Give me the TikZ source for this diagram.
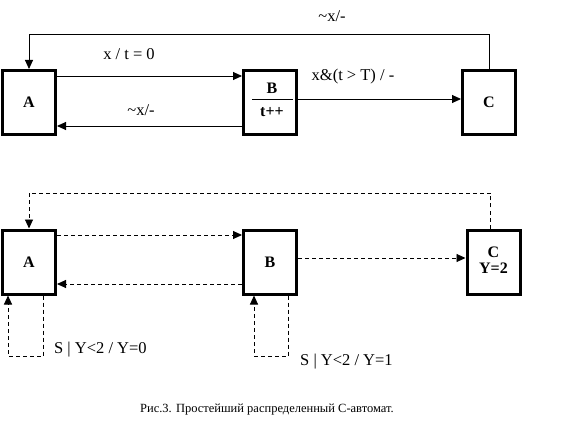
\documentclass[tikz,border=0pt]{standalone}
\usepackage{fontspec}
\setmainfont{Liberation Serif}
\usetikzlibrary{arrows.meta}
\tikzset{
  box/.style={draw, line width=3pt, minimum width=53pt, minimum height=64pt, inner sep=0pt, font=\fontsize{16}{18}\selectfont\bfseries},
  conn/.style={line width=0.9pt, -{Triangle[length=9pt,width=8pt]}},
  dconn/.style={conn, dash pattern=on 4pt off 3pt},
  lbl/.style={font=\fontsize{16.5}{18}\selectfont, inner sep=0pt},
}
\begin{document}
\begin{tikzpicture}[x=1pt,y=-1pt]
\useasboundingbox (0,0) rectangle (576,433);
% top
\node[box] (A) at (29,102.5) {A};
\node[box] (B) at (270,102.5) {};
\node[box] (C) at (489,102.5) {C};
\node[font=\fontsize{16}{18}\selectfont\bfseries, inner sep=0pt] (Bt) at (272,88) {B};
\node[font=\fontsize{16}{18}\selectfont\bfseries, inner sep=0pt] (Bb) at (272,112) {t++};
\draw[line width=0.9pt] ([xshift=10pt,yshift=3.5pt]B.west) -- ([xshift=-5pt,yshift=3.5pt]B.east);
\coordinate (tl) at (29,34);
\draw[conn] (C.north) |- (tl) -- (A.north);
\draw[conn] ([yshift=26.5pt]A.east) -- ([yshift=26.5pt]B.west);
\draw[conn] ([yshift=-23.5pt]B.west) -- ([yshift=-23.5pt]A.east);
\draw[conn] ([yshift=3.5pt]B.east) -- ([yshift=3.5pt]C.west);
\node[lbl] (l1) at (332,16) {\textasciitilde x/-};
\node[lbl] (l2) at (129,54) {x / t = 0};
\node[lbl] (l3) at (141,110) {\textasciitilde x/-};
\node[lbl] (l4) at (353,77) {x\&(t > T) / -};
% bottom
\node[box] (A2) at (29,262) {A};
\node[box] (B2) at (270,262) {B};
\node[box] (C2) at (493.5,262) {\begin{tabular}{@{}c@{}}C\\[-2pt]Y=2\end{tabular}};
\coordinate (tl2) at (29,193);
\draw[dconn] ([xshift=-3.5pt]C2.north) |- (tl2) -- (A2.north);
\draw[dconn] ([yshift=27pt]A2.east) -- ([yshift=27pt]B2.west);
\draw[dconn] ([yshift=-22pt]B2.west) -- ([yshift=-22pt]A2.east);
\draw[dconn] ([yshift=4pt]B2.east) -- ([yshift=4pt]C2.west);
\coordinate (la) at (8,356);
\coordinate (lb) at (254,356);
\draw[dconn] ([xshift=14pt]A2.south) |- (la) -- ([xshift=-21pt]A2.south);
\draw[dconn] ([xshift=18pt]B2.south) |- (lb) -- ([xshift=-16pt]B2.south);
\node[lbl, anchor=west] (l5) at (54,350) {S | Y<2 / Y=0};
\node[lbl, anchor=west] (l6) at (300,362) {S | Y<2 / Y=1};
\node[font=\fontsize{12.5}{14}\selectfont, inner sep=0pt] (cap) at (267,410) {Рис.3. Простейший распределенный С-автомат.};
\end{tikzpicture}
\end{document}
